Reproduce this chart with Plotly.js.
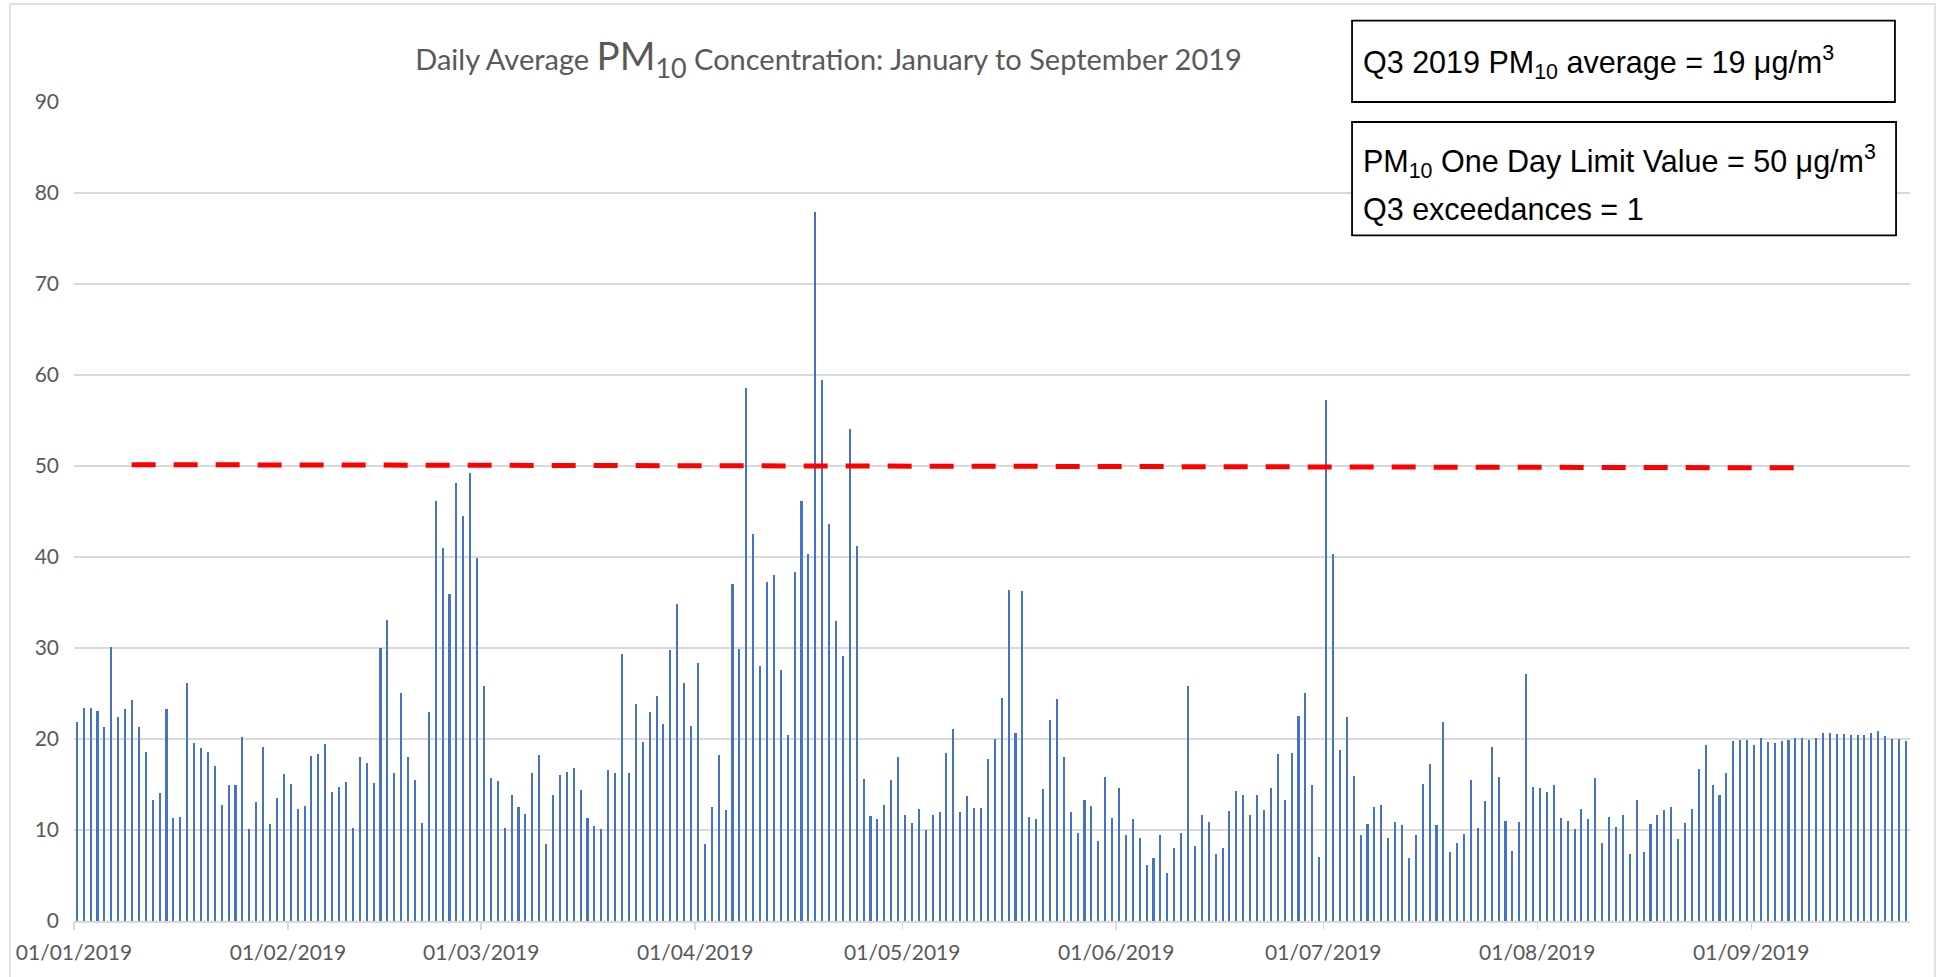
<!DOCTYPE html>
<html>
<head>
<meta charset="utf-8">
<script src="https://cdn.plot.ly/plotly-3.0.1.min.js"></script>
<style>html,body{margin:0;padding:0;background:#fff;}#chart{width:1942px;height:977px;}</style>
</head>
<body>
<div id="chart"></div>
<script>
// Daily average PM10 (µg/m3), 2019, one array per month (day 1 ... day n)
const pm10Jan = [21.9, 23.4, 23.4, 23.1, 21.3, 30.1, 22.4, 23.3, 24.3, 21.3, 18.6, 13.3, 14.1, 23.3, 11.3, 11.4, 26.1, 19.6, 19.0, 18.6, 17.0, 12.7, 14.9, 14.9, 20.2, 10.1, 13.1, 19.1, 10.7, 13.5, 16.2];
const pm10Feb = [15.1, 12.3, 12.6, 18.1, 18.3, 19.5, 14.2, 14.7, 15.3, 10.2, 18.0, 17.4, 15.2, 30.0, 33.1, 16.3, 25.1, 18.0, 15.5, 10.8, 23.0, 46.1, 41.0, 35.9, 48.1, 44.5, 49.2, 39.9];
const pm10Mar = [25.8, 15.7, 15.4, 10.2, 13.8, 12.5, 11.8, 16.3, 18.2, 8.5, 13.9, 16.0, 16.4, 16.8, 14.4, 11.3, 10.4, 10.1, 16.6, 16.3, 29.3, 16.3, 23.8, 19.7, 23.0, 24.7, 21.7, 29.8, 34.8, 26.2, 21.4];
const pm10Apr = [28.4, 8.5, 12.5, 18.2, 12.2, 37.0, 29.9, 58.6, 42.5, 28.0, 37.3, 38.0, 27.6, 20.4, 38.4, 46.2, 40.3, 77.9, 59.4, 43.6, 33.0, 29.1, 54.1, 41.2, 15.6, 11.5, 11.2, 12.8, 15.5, 18.0];
const pm10May = [11.7, 10.8, 12.3, 10.0, 11.6, 12.0, 18.5, 21.1, 12.0, 13.7, 12.4, 12.4, 17.8, 20.0, 24.5, 36.4, 20.7, 36.3, 11.4, 11.2, 14.5, 22.1, 24.4, 18.0, 12.0, 9.7, 13.3, 12.6, 8.8, 15.8, 11.3];
const pm10Jun = [14.6, 9.4, 11.2, 9.1, 6.2, 6.9, 9.5, 5.3, 8.0, 9.7, 25.8, 8.2, 11.7, 10.9, 7.4, 8.0, 12.1, 14.3, 13.8, 11.7, 13.8, 12.2, 14.6, 18.4, 13.3, 18.5, 22.5, 25.1, 15.0, 7.0];
const pm10Jul = [57.2, 40.3, 18.8, 22.4, 15.9, 9.4, 10.7, 12.5, 12.7, 9.1, 10.9, 10.5, 6.9, 9.4, 15.1, 17.3, 10.6, 21.9, 7.6, 8.6, 9.6, 15.5, 10.2, 13.2, 19.1, 15.8, 11.0, 7.7, 10.9, 27.1, 14.7];
const pm10Aug = [14.6, 14.2, 14.9, 11.3, 11.0, 10.1, 12.3, 11.2, 15.7, 8.6, 11.4, 10.3, 11.6, 7.4, 13.3, 7.6, 10.7, 11.7, 12.2, 12.5, 9.0, 10.8, 12.3, 16.7, 19.3, 15.0, 13.9, 16.3, 19.8, 19.9, 19.9];
const pm10Sep = [19.3, 20.1, 19.7, 19.6, 19.8, 19.9, 20.1, 20.1, 19.9, 20.1, 20.7, 20.7, 20.5, 20.6, 20.4, 20.4, 20.4, 20.7, 20.9, 20.3, 20.0, 20.0, 19.8];

const monthSeries = [pm10Jan, pm10Feb, pm10Mar, pm10Apr, pm10May, pm10Jun, pm10Jul, pm10Aug, pm10Sep];

// Date axis ticks (first day of each month)
const tickDates = ['2019-01-01', '2019-02-01', '2019-03-01', '2019-04-01', '2019-05-01', '2019-06-01', '2019-07-01', '2019-08-01', '2019-09-01'];
const tickLabels = ['01/01/2019', '01/02/2019', '01/03/2019', '01/04/2019', '01/05/2019', '01/06/2019', '01/07/2019', '01/08/2019', '01/09/2019'];

// Limit value line (drawn slightly sloped in the original)
const limitLineDates = ['2019-01-09 08:30', '2019-09-07 07:00'];
const limitLineValues = [50.15, 49.8];

const yTicks = [0, 10, 20, 30, 40, 50, 60, 70, 80, 90];

// build daily x / y
const DAY = 86400000;
const dayX = [], dayY = [];
monthSeries.forEach((arr, m) => {
  arr.forEach((v, d) => {
    dayX.push(Date.UTC(2019, m, d + 1) + 0.4 * DAY);
    dayY.push(v);
  });
});

const grey = '#595959';
const chartFont = 'Lato, "Open Sans", sans-serif';
const boxFont = '"Liberation Sans", Arial, sans-serif';

const traces = [
  {
    type: 'bar',
    x: dayX,
    y: dayY,
    width: 0.3 * DAY,
    marker: {color: '#4472C4', line: {width: 0}},
    hoverinfo: 'x+y',
    showlegend: false
  },
  {
    type: 'scatter',
    mode: 'lines',
    x: limitLineDates,
    y: limitLineValues,
    line: {color: '#FF0000', width: 5, dash: '24px,18px'},
    hoverinfo: 'skip',
    showlegend: false
  }
];

const layout = {
  width: 1942,
  height: 977,
  margin: {l: 74, r: 32, t: 102, b: 56},
  paper_bgcolor: '#ffffff',
  plot_bgcolor: '#ffffff',
  showlegend: false,
  bargap: 0,
  font: {family: chartFont, color: grey, size: 21},
  title: {
    text: 'Daily Average <span style="font-size:38.5px">PM<sub>10</sub></span> Concentration: January to September 2019',
    font: {family: chartFont, color: grey, size: 29},
    xref: 'paper', x: 0.411, xanchor: 'center',
    yref: 'container', y: 0.939, yanchor: 'middle'
  },
  xaxis: {
    type: 'date',
    range: ['2019-01-01', '2019-09-24'],
    tickvals: tickDates,
    ticktext: tickLabels,
    ticks: 'outside',
    ticklen: 7,
    tickwidth: 1.5,
    tickcolor: '#d9d9d9',
    showline: true,
    linecolor: '#d9d9d9',
    linewidth: 1.5,
    showgrid: false,
    zeroline: false,
    tickfont: {family: chartFont, color: grey, size: 21},
    ticklabelstandoff: 5,
    fixedrange: true
  },
  yaxis: {
    range: [0, 90],
    tickvals: yTicks,
    ticktext: yTicks.map(String),
    showgrid: true,
    gridcolor: '#d9d9d9',
    gridwidth: 1.5,
    zeroline: false,
    showline: false,
    ticks: '',
    tickfont: {family: chartFont, color: grey, size: 21},
    ticklabelstandoff: 14,
    fixedrange: true
  },
  shapes: [
    {type: 'rect', xref: 'paper', yref: 'paper', x0: -0.0349, x1: 1.0136, y0: -0.2, y1: 1.1197,
     line: {color: '#d9d9d9', width: 1.5}, fillcolor: 'rgba(0,0,0,0)', layer: 'below'},
    {type: 'rect', xref: 'paper', yref: 'paper', x0: 0.6961, x1: 0.9918, y0: 1.0, y1: 1.0993,
     line: {color: '#000000', width: 1.8}, fillcolor: '#ffffff', layer: 'above'},
    {type: 'rect', xref: 'paper', yref: 'paper', x0: 0.6961, x1: 0.9924, y0: 0.8371, y1: 0.9756,
     line: {color: '#000000', width: 1.8}, fillcolor: '#ffffff', layer: 'above'}
  ],
  annotations: [
    {xref: 'paper', yref: 'paper', x: 0.701, y: 1.0486, xanchor: 'left', yanchor: 'middle', showarrow: false,
     text: 'Q3 2019 PM<sub>10</sub> average = 19 μg/m<sup>3</sup>', font: {family: boxFont, size: 30.5, color: '#000000'}},
    {xref: 'paper', yref: 'paper', x: 0.701, y: 0.9272, xanchor: 'left', yanchor: 'middle', showarrow: false,
     text: 'PM<sub>10</sub> One Day Limit Value = 50 μg/m<sup>3</sup>', font: {family: boxFont, size: 30.5, color: '#000000'}},
    {xref: 'paper', yref: 'paper', x: 0.701, y: 0.8693, xanchor: 'left', yanchor: 'middle', showarrow: false,
     text: 'Q3 exceedances = 1', font: {family: boxFont, size: 30.5, color: '#000000'}}
  ]
};

Plotly.newPlot('chart', traces, layout, {displayModeBar: false, staticPlot: true});
</script>
</body>
</html>
